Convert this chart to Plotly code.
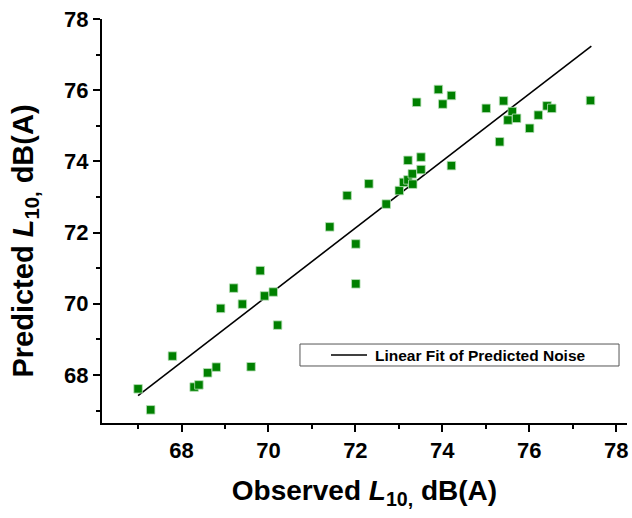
import plotly.graph_objects as go

# Observed vs predicted L10 noise levels, dB(A)
observed = [
    67.00, 67.29, 67.79, 68.29, 68.40, 68.60, 68.80, 69.60, 68.90, 69.20,
    69.40, 69.81, 69.91, 70.11, 70.21,
    71.41, 72.01, 72.01, 71.81, 72.31, 72.71, 73.01, 73.11, 73.21, 73.32,
    73.31, 73.51, 73.51, 73.21, 74.21,
    73.41, 73.91, 74.01, 74.21, 75.01, 75.41, 75.32, 75.61, 75.51, 75.71,
    76.01, 76.21, 76.41, 76.52, 77.41,
]
predicted = [
    67.61, 67.02, 68.53, 67.66, 67.72, 68.06, 68.22, 68.23, 69.87, 70.44,
    69.99, 70.93, 70.22, 70.33, 69.40,
    72.16, 71.68, 70.56, 73.04, 73.37, 72.80, 73.18, 73.41, 73.48, 73.36,
    73.65, 73.77, 74.12, 74.03, 73.88,
    75.66, 76.02, 75.61, 75.85, 75.49, 75.70, 74.55, 75.40, 75.16, 75.21,
    74.93, 75.30, 75.56, 75.49, 75.71,
]

# End points of the linear fit line
fit_x = [67.0, 77.43]
fit_y = [67.42, 77.24]
fit_label = "Linear Fit of Predicted Noise"

x_range = [66.17, 78.25]
y_range = [66.65, 78.0]

font_family = "Liberation Sans, Arial, sans-serif"

fig = go.Figure()

fig.add_trace(go.Scatter(
    x=fit_x, y=fit_y, mode="lines",
    line=dict(color="black", width=1.6),
    name=fit_label, showlegend=False,
))

fig.add_trace(go.Scatter(
    x=observed, y=predicted, mode="markers",
    marker=dict(symbol="square", size=8.5, color="#008000",
                line=dict(color="#b8e0b8", width=0.8)),
    showlegend=False,
))

axis_common = dict(
    showgrid=False, zeroline=False, automargin=False,
    showline=True, linecolor="black", linewidth=2,
    ticks="outside", ticklen=7, tickwidth=2, tickcolor="black",
    tickfont=dict(family=font_family, size=22, color="black", weight="bold"),
    dtick=2,
    minor=dict(ticks="outside", ticklen=4, tickwidth=1.5,
               tickcolor="black", dtick=1),
)

fig.update_xaxes(
    range=x_range, tick0=68, **axis_common,
    title=dict(text="<b>Observed <i>L</i><sub>10,</sub> dB(A)</b>",
               font=dict(family=font_family, size=28, color="black"),
               standoff=18),
)
fig.update_yaxes(
    range=y_range, tick0=68, **axis_common,
    ticklabelstandoff=0,
)

# Vertical axis title
fig.add_annotation(
    text="<b>Predicted <i>L</i><sub>10,</sub> dB(A)</b>",
    xref="paper", yref="paper", x=-0.146, y=0.45,
    xanchor="center", yanchor="middle", textangle=-90, showarrow=False,
    font=dict(family=font_family, size=29, color="black"),
)

# Boxed key for the fit line
fig.add_shape(type="rect", xref="paper", yref="paper",
              x0=0.3771, x1=0.9848, y0=0.1411, y1=0.1955,
              line=dict(color="#555555", width=1), fillcolor="white",
              layer="above")
fig.add_shape(type="line", xref="paper", yref="paper",
              x0=0.4362, x1=0.5048, y0=0.1683, y1=0.1683,
              line=dict(color="black", width=1.6), layer="above")
fig.add_annotation(
    text=f"<b>{fit_label}</b>", xref="paper", yref="paper",
    x=0.5162, y=0.1683, xanchor="left", yanchor="middle", showarrow=False,
    font=dict(family=font_family, size=15.5, color="black"),
)

fig.update_layout(
    width=632, height=518,
    margin=dict(l=102, r=5, t=19, b=95, autoexpand=False),
    plot_bgcolor="white", paper_bgcolor="white",
)

fig.write_html("out.html")
